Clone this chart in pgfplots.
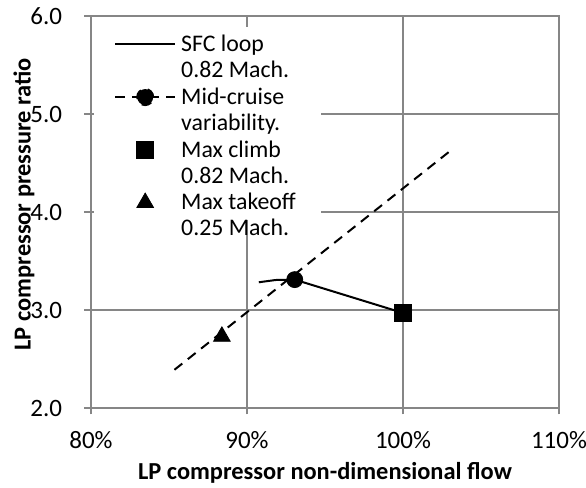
\documentclass[border=0pt]{standalone}
\usepackage{pgfplots}
\pgfplotsset{compat=1.18}
\usepackage{fontspec}
\setmainfont{Carlito}
\definecolor{gridgray}{RGB}{134,134,134}
\newcommand\two[2]{\begin{tabular}[t]{@{}l@{}}#1\\#2\end{tabular}}
\begin{document}
\fontsize{12pt}{13pt}\selectfont
\begin{tikzpicture}
\useasboundingbox (-45.5pt,-40pt) rectangle (247.5pt,204pt);
\begin{axis}[
  at={(0,0)}, anchor=south west,
  scale only axis, width=234pt, height=196pt,
  xmin=80, xmax=110, ymin=2, ymax=6,
  xtick={80,90,100,110}, ytick={2,3,4,5,6},
  xticklabel={\pgfmathprintnumber{\tick}\%},
  yticklabel style={/pgf/number format/fixed, /pgf/number format/fixed zerofill, /pgf/number format/precision=1, xshift=-7pt},
  /pgf/number format/assume math mode=true,
  tick label style={font=\fontsize{12.5pt}{13pt}\selectfont},
  xticklabel style={yshift=-4.5pt},
  grid=major,
  major grid style={gridgray, line width=0.75pt},
  axis line style={gridgray, line width=0.75pt},
  major tick style={gridgray, line width=0.75pt},
  tick align=center, major tick length=6.5pt, tick pos=left,
  xlabel={\bfseries LP compressor non-dimensional flow},
  ylabel={\bfseries LP compressor pressure ratio},
  label style={font=\fontsize{12.2pt}{13pt}\selectfont},
  xlabel style={at={(axis description cs:0.5,-0.165)}, anchor=center},
  ylabel style={at={(axis description cs:-0.143,0.52)}, anchor=center},
  legend style={at={(axis description cs:0.006,0.972)}, anchor=north west,
    fill=white, draw=none, inner xsep=10pt, inner ysep=1pt,
    font=\fontsize{11.9pt}{13pt}\selectfont, row sep=11.5pt,
    nodes={inner xsep=2.5pt}},
  legend cell align=left,
  legend image code/.code={\draw[mark repeat=2,mark phase=2,#1] plot coordinates {(0pt,0pt)(15pt,0pt)(30pt,0pt)};},
]
\addplot[black, line width=1pt, mark=none] coordinates {
  (90.76,3.283) (91.83,3.306) (93.06,3.31) (100,2.97)
};
\addlegendentry{\two{SFC loop}{0.82 Mach.}}
\addplot[black, line width=1pt, dash pattern=on 5pt off 3.5pt, mark=none,
  legend image code/.code={\draw[black, line width=1pt, dash pattern=on 5pt off 3.5pt] (0pt,0pt) -- (30pt,0pt); \fill[black] (15pt,0pt) circle (4pt);}]
  coordinates { (85.35,2.39) (103.0,4.62) };
\addlegendentry{\two{Mid-cruise}{variability.}}
\addplot[black, only marks, mark=square*, mark size=4.2pt] coordinates { (100,2.97) };
\addlegendentry{\two{Max climb}{0.82 Mach.}}
\addplot[black, only marks, mark=triangle*, mark size=4.8pt] coordinates { (88.39,2.73) };
\addlegendentry{\two{Max takeoff}{0.25 Mach.}}
\addplot[black, only marks, mark=*, mark size=4pt, forget plot] coordinates { (93.06,3.31) };
\end{axis}
\end{tikzpicture}
\end{document}
